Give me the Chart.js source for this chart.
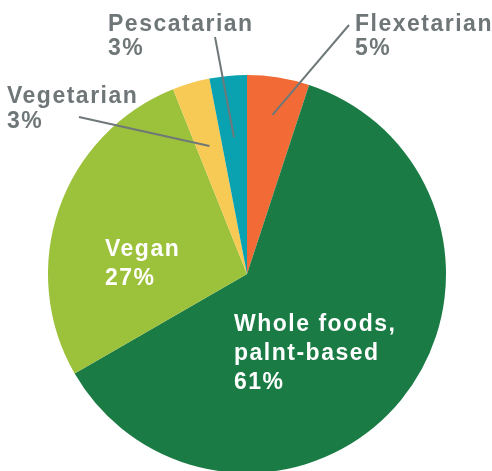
<!DOCTYPE html>
<html>
<head>
<meta charset="utf-8">
<script src="https://cdn.jsdelivr.net/npm/chart.js@4/dist/chart.umd.min.js"></script>
<style>
  html, body { margin: 0; padding: 0; background: #fff; overflow: hidden; }
  .wrap { width: 492px; height: 490px; }
</style>
</head>
<body>
<div class="wrap"><canvas id="pie"></canvas></div>
<script>
const categories = ['Flexetarian', 'Whole foods,\npalnt-based', 'Vegan', 'Vegetarian', 'Pescatarian'];
const shares = [5, 61, 27, 3, 3];
const sliceColors = ['#F26A36', '#1A7B45', '#9CC13B', '#F7C955', '#0AA1B1'];

// where each label goes; leader = fraction of radius where the line meets the slice
const labelSpots = [
  { x: 355, y: 31, color: '#6f7677', lh: 23.5, line: [349, 25], leader: 0.81 },
  { x: 234, y: 331, color: '#ffffff', lh: 29 },
  { x: 105, y: 256, color: '#ffffff', lh: 29 },
  { x: 7, y: 103, color: '#6f7677', lh: 24.5, line: [79, 117], leader: 0.67 },
  { x: 108, y: 31, color: '#6f7677', lh: 23.5, line: [215, 37], leader: 0.69 }
];

const pieLabels = {
  id: 'pieLabels',
  afterDatasetsDraw(chart) {
    const ctx = chart.ctx;
    const arcs = chart.getDatasetMeta(0).data;
    ctx.save();
    arcs.forEach((arc, i) => {
      const spot = labelSpots[i];
      if (spot.line) {
        const p = arc.getProps(['x', 'y', 'startAngle', 'endAngle', 'outerRadius'], true);
        const mid = (p.startAngle + p.endAngle) / 2;
        const r = p.outerRadius * spot.leader;
        ctx.beginPath();
        ctx.moveTo(spot.line[0], spot.line[1]);
        ctx.lineTo(p.x + Math.cos(mid) * r, p.y + Math.sin(mid) * r);
        ctx.strokeStyle = '#6f7879';
        ctx.lineWidth = 2;
        ctx.stroke();
      }
      const lines = categories[i].split('\n').concat([shares[i] + '%']);
      ctx.fillStyle = spot.color;
      ctx.font = 'bold 23px "Liberation Sans", Arial, sans-serif';
      ctx.letterSpacing = '1.5px';
      ctx.textBaseline = 'alphabetic';
      ctx.textAlign = 'left';
      lines.forEach((t, k) => ctx.fillText(t, spot.x, spot.y + k * spot.lh));
    });
    ctx.restore();
  }
};

new Chart(document.getElementById('pie'), {
  type: 'pie',
  data: {
    labels: categories,
    datasets: [{
      data: shares,
      backgroundColor: sliceColors,
      borderWidth: 0
    }]
  },
  options: {
    responsive: true,
    maintainAspectRatio: false,
    animation: false,
    layout: { padding: { top: 75, bottom: 17, left: 48, right: 46 } },
    plugins: {
      legend: { display: false },
      tooltip: { enabled: false }
    }
  },
  plugins: [pieLabels]
});
</script>
</body>
</html>
